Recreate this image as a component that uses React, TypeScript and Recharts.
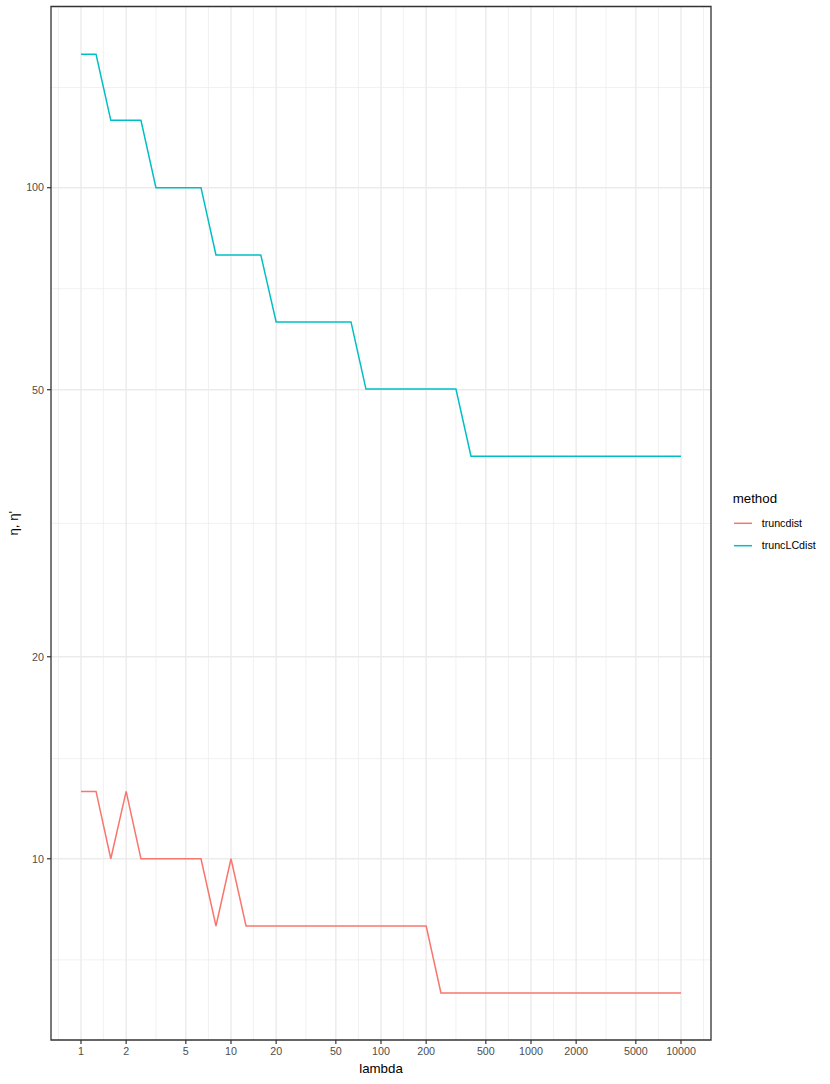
import React from "react"
import {
  LineChart,
  Line,
  XAxis,
  YAxis,
  CartesianGrid,
  ReferenceArea,
  Legend,
} from "recharts"

const lambdaValues = [
  1, 1.26, 1.58, 2, 2.51, 3.16, 3.98, 5.01, 6.31, 7.94,
  10, 12.6, 15.8, 20, 25.1, 31.6, 39.8, 50.1, 63.1, 79.4,
  100, 126, 158, 200, 251, 316, 398, 501, 631, 794,
  1000, 1259, 1585, 1995, 2512, 3162, 3981, 5012, 6310, 7943,
  10000,
]

const truncdist = [
  12.6, 12.6, 10, 12.6, 10, 10, 10, 10, 10, 7.94,
  10, 7.94, 7.94, 7.94, 7.94, 7.94, 7.94, 7.94, 7.94, 7.94,
  7.94, 7.94, 7.94, 7.94, 6.31, 6.31, 6.31, 6.31, 6.31, 6.31,
  6.31, 6.31, 6.31, 6.31, 6.31, 6.31, 6.31, 6.31, 6.31, 6.31,
  6.31,
]

const truncLCdist = [
  158, 158, 126, 126, 126, 100, 100, 100, 100, 79.4,
  79.4, 79.4, 79.4, 63.1, 63.1, 63.1, 63.1, 63.1, 63.1, 50.1,
  50.1, 50.1, 50.1, 50.1, 50.1, 50.1, 39.8, 39.8, 39.8, 39.8,
  39.8, 39.8, 39.8, 39.8, 39.8, 39.8, 39.8, 39.8, 39.8, 39.8,
  39.8,
]

const xTicks = [1, 2, 5, 10, 20, 50, 100, 200, 500, 1000, 2000, 5000, 10000]
const xMinor = [0.707, 1.41, 3.16, 7.07, 14.1, 31.6, 70.7, 141, 316, 707, 1414, 3162, 7071, 14142]
const yTicks = [10, 20, 50, 100]
const yMinor = [7.07, 14.1, 31.6, 70.7, 141]

const xDomain: [number, number] = [0.631, 15849]
const yDomain: [number, number] = [5.37, 186.2]

const series = [
  { key: "truncdist", color: "#F8766D" },
  { key: "truncLCdist", color: "#00BFC4" },
]

const chartData = lambdaValues.map((lambda, i) => ({
  lambda,
  truncdist: truncdist[i],
  truncLCdist: truncLCdist[i],
}))

const font = "'Liberation Sans', Arial, Helvetica, sans-serif"
const tickStyle = { fontSize: 10.7, fill: "#4D4D4D", fontFamily: font }

function MethodLegend() {
  return (
    <svg width={108} height={80} style={{ display: "block" }}>
      <text x={10.7} y={23} fontSize={13.3} fill="#000" fontFamily={font}>
        method
      </text>
      {series.map((s, i) => {
        const cy = 43.3 + i * 22.4
        return (
          <g key={s.key}>
            <line x1={12} x2={30} y1={cy} y2={cy} stroke={s.color} strokeWidth={1.5} />
            <text x={39.7} y={cy} dy="0.35em" fontSize={10.7} fill="#000" fontFamily={font}>
              {s.key}
            </text>
          </g>
        )
      })}
    </svg>
  )
}

export default function App() {
  return (
    <div style={{ position: "absolute", left: 0, top: 0, background: "#fff" }}>
      <LineChart
        width={830}
        height={1084}
        data={chartData}
        margin={{ top: 6.5, right: 119, bottom: 0, left: 0 }}
      >
        <CartesianGrid
          verticalValues={xMinor}
          horizontalValues={yMinor}
          stroke="#EBEBEB"
          strokeWidth={0.7}
        />
        <CartesianGrid
          verticalValues={xTicks}
          horizontalValues={yTicks}
          stroke="#EBEBEB"
          strokeWidth={1.4}
        />
        <XAxis
          dataKey="lambda"
          type="number"
          scale="log"
          domain={xDomain}
          allowDataOverflow
          ticks={xTicks}
          interval={0}
          height={44}
          axisLine={false}
          tickLine={{ stroke: "#333333", strokeWidth: 1.2 }}
          tickSize={4}
          tickMargin={3}
          tick={tickStyle}
          label={{
            content: (props: any) => {
              const vb = props.viewBox
              return (
                <text
                  x={vb.x + vb.width / 2}
                  y={vb.y + 33}
                  textAnchor="middle"
                  fontSize={13.3}
                  fill="#000"
                  fontFamily={font}
                >
                  lambda
                </text>
              )
            },
          }}
        />
        <YAxis
          type="number"
          scale="log"
          domain={yDomain}
          allowDataOverflow
          ticks={yTicks}
          interval={0}
          width={51}
          axisLine={false}
          tickLine={{ stroke: "#333333", strokeWidth: 1.2 }}
          tickSize={4}
          tickMargin={3}
          tick={tickStyle}
          label={{
            content: (props: any) => {
              const vb = props.viewBox
              const cx = vb.x + 13
              const cy = vb.y + vb.height / 2
              return (
                <text
                  x={cx}
                  y={cy}
                  transform={`rotate(-90 ${cx} ${cy})`}
                  textAnchor="middle"
                  dy="0.35em"
                  fontSize={13.3}
                  fill="#000"
                  fontFamily={font}
                >
                  η, η'
                </text>
              )
            },
          }}
        />
        {series.map((s) => (
          <Line
            key={s.key}
            type="linear"
            dataKey={s.key}
            stroke={s.color}
            strokeWidth={1.5}
            dot={false}
            activeDot={false}
            isAnimationActive={false}
          />
        ))}
        <ReferenceArea
          x1={xDomain[0]}
          x2={xDomain[1]}
          y1={yDomain[0]}
          y2={yDomain[1]}
          fill="none"
          fillOpacity={0}
          stroke="#333333"
          strokeWidth={1.3}
          ifOverflow="visible"
        />
        <Legend
          layout="vertical"
          align="center"
          verticalAlign="middle"
          wrapperStyle={{ left: 722, top: 480, width: 108 }}
          content={() => <MethodLegend />}
        />
      </LineChart>
    </div>
  )
}
